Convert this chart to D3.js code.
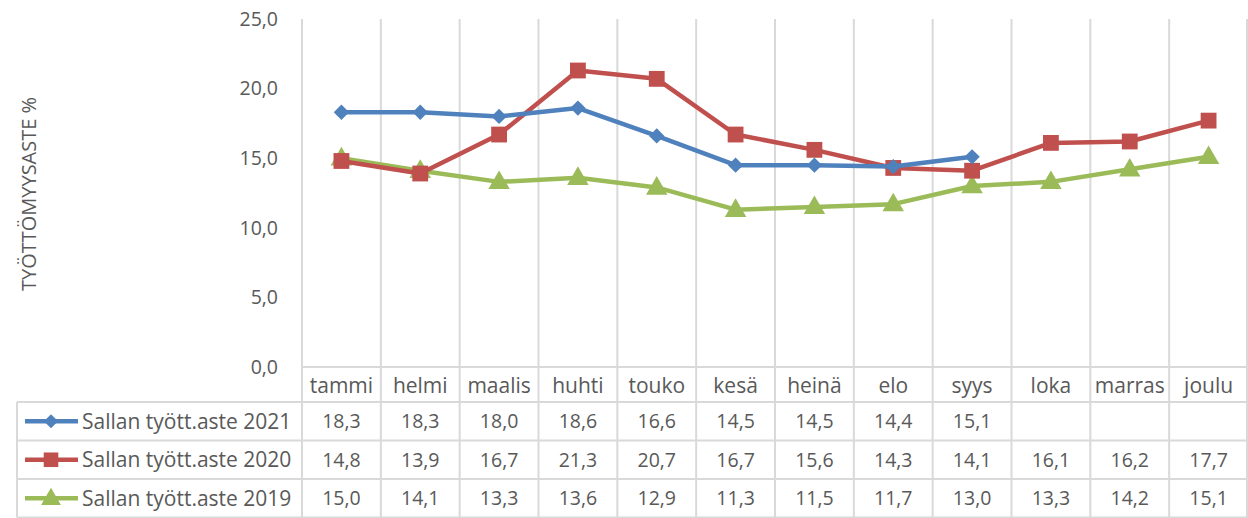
<!DOCTYPE html>
<html><head><meta charset="utf-8">
<script src="https://cdn.jsdelivr.net/npm/d3@7"></script>
<style>body{margin:0;background:#fff}svg{display:block}</style>
</head><body><svg id="c" width="1248" height="518"></svg>
<script>
const categories = ["tammi","helmi","maalis","huhti","touko","kesä","heinä","elo","syys","loka","marras","joulu"];
const seriesNames = ["Sallan tyött.aste 2021","Sallan tyött.aste 2020","Sallan tyött.aste 2019"];
const values2021 = [18.3,18.3,18.0,18.6,16.6,14.5,14.5,14.4,15.1,null,null,null];
const values2020 = [14.8,13.9,16.7,21.3,20.7,16.7,15.6,14.3,14.1,16.1,16.2,17.7];
const values2019 = [15.0,14.1,13.3,13.6,12.9,11.3,11.5,11.7,13.0,13.3,14.2,15.1];
const yTicks = [0,5,10,15,20,25];
const yTitle = "TYÖTTÖMYYSASTE %";

const colors = ["#4F81BD","#C0504D","#9BBB59"];
const symbols = [d3.symbolDiamond2, d3.symbolSquare, d3.symbolTriangle];
const symSizes = [150, 250, 200];
const series = [values2021, values2020, values2019];

const svg = d3.select("#c");
const font = "'Open Sans', sans-serif";
const fsNum = 19.5, fsTxt = 21;
const txt = "#595959", grid = "#d9d9d9";
const L = 302, R = 1248, T = 19, B = 367;
const x = d3.scaleBand().domain(categories).range([L, R]).paddingInner(0).paddingOuter(0);
const y = d3.scaleLinear().domain([0,25]).range([B, T]);
const rowTop = 402, rowH = 38.5, tableLeft = 17;
const fmt = v => v == null ? "" : d3.format(".1f")(v).replace(".", ",");

// vertical gridlines (category boundaries) through plot and table
const bounds = categories.map(c => x(c)).concat([R - 1]);
svg.append("g").selectAll("line").data(bounds).join("line")
  .attr("x1", d => d).attr("x2", d => d)
  .attr("y1", T).attr("y2", rowTop + rowH * 3)
  .attr("stroke", grid).attr("stroke-width", 2);
// horizontal lines
svg.append("line").attr("x1", L).attr("x2", R).attr("y1", B).attr("y2", B).attr("stroke", grid).attr("stroke-width", 2);
const hl = [0,1,2,3].map(i => rowTop + i * rowH);
svg.append("g").selectAll("line").data(hl).join("line")
  .attr("x1", tableLeft).attr("x2", R).attr("y1", d => d).attr("y2", d => d)
  .attr("stroke", grid).attr("stroke-width", 2);
svg.append("line").attr("x1", tableLeft).attr("x2", tableLeft).attr("y1", rowTop).attr("y2", rowTop + 3 * rowH).attr("stroke", grid).attr("stroke-width", 2);

// y axis labels
svg.append("g").selectAll("text").data(yTicks).join("text")
  .attr("x", 278).attr("y", d => y(d)).attr("dy", "0.35em").attr("text-anchor", "end")
  .attr("font-family", font).attr("font-size", fsNum).attr("fill", txt).text(d => fmt(d));
svg.append("text").attr("transform", `translate(36,194) rotate(-90)`)
  .attr("text-anchor", "middle").attr("font-family", font).attr("font-size", 20).attr("fill", txt).text(yTitle);

// category labels
svg.append("g").selectAll("text").data(categories).join("text")
  .attr("x", d => x(d) + x.bandwidth()/2).attr("y", (B + rowTop)/2 + 1).attr("dy", "0.35em")
  .attr("text-anchor", "middle").attr("font-family", font).attr("font-size", fsTxt).attr("fill", txt).text(d => d);

// lines & markers
const line = d3.line().defined(d => d.v != null).x(d => x(d.c) + x.bandwidth()/2).y(d => y(d.v));
series.slice().reverse().forEach((vals, ri) => {
  const i = series.length - 1 - ri;
  const data = categories.map((c, k) => ({c, v: vals[k]}));
  svg.append("path").datum(data).attr("d", line).attr("fill", "none")
    .attr("stroke", colors[i]).attr("stroke-width", 4.5).attr("stroke-linejoin", "round");
  svg.append("g").selectAll("path").data(data.filter(d => d.v != null)).join("path")
    .attr("transform", d => `translate(${x(d.c) + x.bandwidth()/2},${y(d.v) + (i===2 ? 1 : 0)})`)
    .attr("d", d3.symbol(symbols[i], symSizes[i])).attr("fill", colors[i]);
});

// table rows
series.forEach((vals, i) => {
  const cy = rowTop + rowH * i + rowH/2;
  svg.append("line").attr("x1", 25).attr("x2", 78).attr("y1", cy).attr("y2", cy).attr("stroke", colors[i]).attr("stroke-width", 4.5);
  svg.append("path").attr("transform", `translate(51,${cy + (i===2 ? 1 : 0)})`).attr("d", d3.symbol(symbols[i], symSizes[i]*0.85)).attr("fill", colors[i]);
  svg.append("text").attr("x", 82).attr("y", cy).attr("dy", "0.35em").attr("font-family", font).attr("font-size", fsTxt).attr("fill", txt).text(seriesNames[i]);
  svg.append("g").selectAll("text").data(categories.map((c, k) => ({c, v: vals[k]}))).join("text")
    .attr("x", d => x(d.c) + x.bandwidth()/2).attr("y", cy).attr("dy", "0.35em").attr("text-anchor", "middle")
    .attr("font-family", font).attr("font-size", fsNum).attr("fill", txt).text(d => fmt(d.v));
});
</script></body></html>
